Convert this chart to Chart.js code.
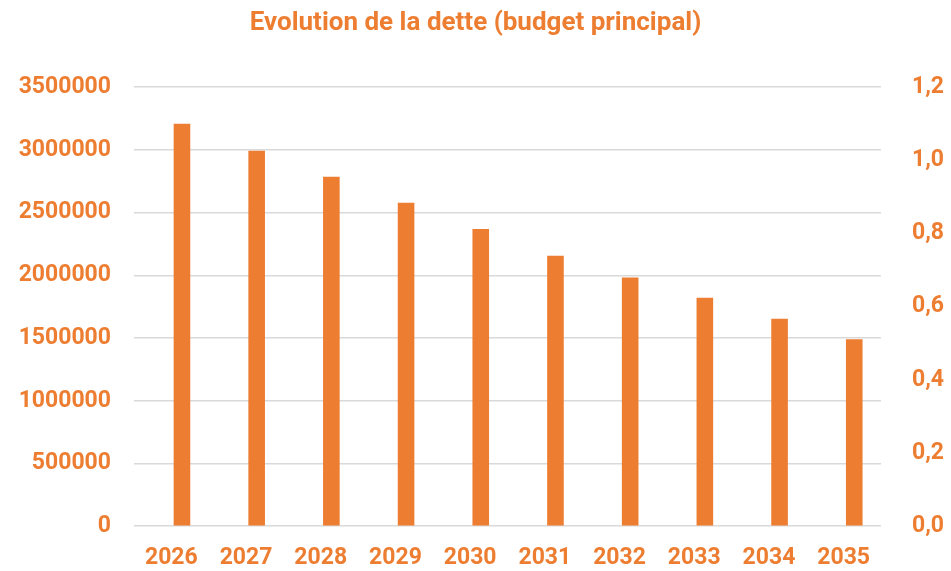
<!DOCTYPE html>
<html>
<head>
<meta charset="utf-8">
<script src="https://cdn.jsdelivr.net/npm/chart.js@4"></script>
<style>
  html, body { margin: 0; padding: 0; background: #fff; }
</style>
</head>
<body>
<canvas id="myChart" width="951" height="571"></canvas>
<script>
// data
var years = ["2026", "2027", "2028", "2029", "2030", "2031", "2032", "2033", "2034", "2035"];
var dette = [3208000, 2994000, 2787000, 2578000, 2369000, 2157000, 1982000, 1821000, 1654000, 1490000];
// second series on the right axis has no values
var secondaire = [null, null, null, null, null, null, null, null, null, null];
var leftTicks = [0, 3500000, 500000];   // min, max, step
var rightTicks = [0, 1.2, 0.2];

var orange = "#ED7D31";
var fam = "Roboto, 'DejaVu Sans Condensed', sans-serif";

var ctx = document.getElementById("myChart").getContext("2d");
var myChart = new Chart(ctx, {
  type: "bar",
  data: {
    labels: years,
    datasets: [{
        label: "Secondaire",
        data: secondaire,
        yAxisID: "y1",
        backgroundColor: "#A5A5A5"
      }, {
        label: "Dette",
        data: dette,
        yAxisID: "y",
        backgroundColor: orange
      }]
  },
  options: {
    responsive: false,
    animation: false,
    datasets: {
      bar: { categoryPercentage: 0.568, barPercentage: 0.783 }
    },
    layout: { padding: 0 },
    plugins: {
      legend: { display: false },
      tooltip: { enabled: false },
      title: {
        display: true,
        text: "Evolution de la dette (budget principal)",
        color: orange,
        font: { family: fam, size: 26, weight: "bold" },
        padding: { top: 8, bottom: 48 }
      }
    },
    scales: {
      x: {
        grid: { display: false, drawTicks: false },
        border: { display: false },
        ticks: { color: orange, font: { family: fam, size: 23, weight: "bold" }, padding: 18 },
        afterFit: function (s) { s.height = 38; }
      },
      y: {
        position: "left",
        min: leftTicks[0],
        max: leftTicks[1],
        grid: { color: "#D9D9D9", lineWidth: 1.5, drawTicks: false },
        border: { display: false },
        ticks: {
          stepSize: leftTicks[2],
          color: orange,
          padding: 23,
          font: { family: fam, size: 23, weight: "bold" },
          callback: function (v) { return String(v); }
        },
        afterFit: function (s) { s.width = 134; }
      },
      y1: {
        position: "right",
        min: rightTicks[0],
        max: rightTicks[1],
        grid: { display: false, drawTicks: false },
        border: { display: false },
        ticks: {
          stepSize: rightTicks[2],
          color: orange,
          padding: 31,
          font: { family: fam, size: 23, weight: "bold" },
          callback: function (v) { return v.toFixed(1).replace(".", ","); }
        },
        afterFit: function (s) { s.width = 70; }
      }
    }
  }
});
</script>
</body>
</html>
